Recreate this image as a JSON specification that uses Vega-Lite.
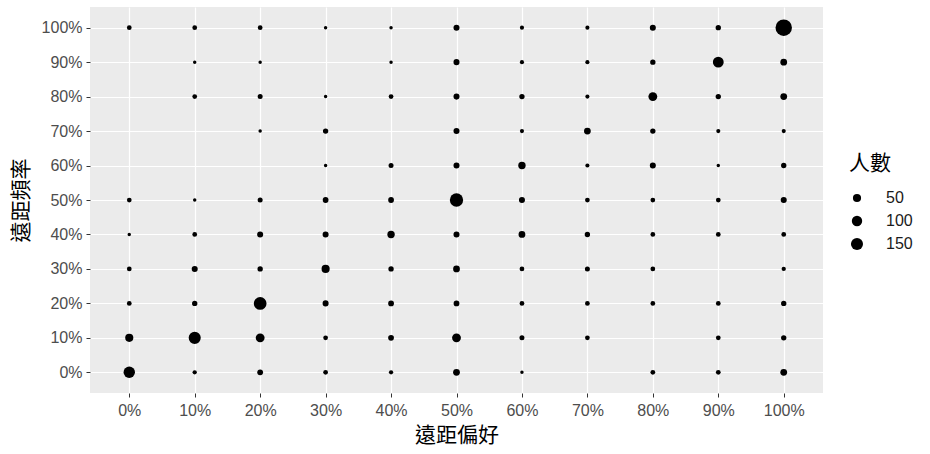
{
  "$schema": "https://vega.github.io/schema/vega-lite/v6.json",
  "autosize": "none",
  "width": 733,
  "height": 386,
  "padding": {"left": 90, "top": 7, "right": 107, "bottom": 61},
  "background": "white",
  "data": {
    "values": [
      {"pref": 0, "freq": 100, "n": 8}, {"pref": 10, "freq": 100, "n": 8}, {"pref": 20, "freq": 100, "n": 8},
      {"pref": 30, "freq": 100, "n": 1}, {"pref": 40, "freq": 100, "n": 1}, {"pref": 50, "freq": 100, "n": 20},
      {"pref": 60, "freq": 100, "n": 4}, {"pref": 70, "freq": 100, "n": 4}, {"pref": 80, "freq": 100, "n": 20},
      {"pref": 90, "freq": 100, "n": 13}, {"pref": 100, "freq": 100, "n": 338},

      {"pref": 10, "freq": 90, "n": 1}, {"pref": 20, "freq": 90, "n": 1}, {"pref": 40, "freq": 90, "n": 1},
      {"pref": 50, "freq": 90, "n": 20}, {"pref": 60, "freq": 90, "n": 4}, {"pref": 70, "freq": 90, "n": 4},
      {"pref": 80, "freq": 90, "n": 13}, {"pref": 90, "freq": 90, "n": 112}, {"pref": 100, "freq": 90, "n": 29},

      {"pref": 10, "freq": 80, "n": 8}, {"pref": 20, "freq": 80, "n": 10}, {"pref": 30, "freq": 80, "n": 1},
      {"pref": 40, "freq": 80, "n": 8}, {"pref": 50, "freq": 80, "n": 20}, {"pref": 60, "freq": 80, "n": 13},
      {"pref": 70, "freq": 80, "n": 4}, {"pref": 80, "freq": 80, "n": 64}, {"pref": 90, "freq": 80, "n": 13},
      {"pref": 100, "freq": 80, "n": 29},

      {"pref": 20, "freq": 70, "n": 1}, {"pref": 30, "freq": 70, "n": 13}, {"pref": 50, "freq": 70, "n": 20},
      {"pref": 60, "freq": 70, "n": 4}, {"pref": 70, "freq": 70, "n": 29}, {"pref": 80, "freq": 70, "n": 13},
      {"pref": 90, "freq": 70, "n": 4}, {"pref": 100, "freq": 70, "n": 4},

      {"pref": 30, "freq": 60, "n": 1}, {"pref": 40, "freq": 60, "n": 10}, {"pref": 50, "freq": 60, "n": 20},
      {"pref": 60, "freq": 60, "n": 38}, {"pref": 70, "freq": 60, "n": 4}, {"pref": 80, "freq": 60, "n": 20},
      {"pref": 90, "freq": 60, "n": 1}, {"pref": 100, "freq": 60, "n": 13},

      {"pref": 0, "freq": 50, "n": 8}, {"pref": 10, "freq": 50, "n": 1}, {"pref": 20, "freq": 50, "n": 10},
      {"pref": 30, "freq": 50, "n": 17}, {"pref": 40, "freq": 50, "n": 17}, {"pref": 50, "freq": 50, "n": 195},
      {"pref": 60, "freq": 50, "n": 20}, {"pref": 70, "freq": 50, "n": 8}, {"pref": 80, "freq": 50, "n": 8},
      {"pref": 90, "freq": 50, "n": 8}, {"pref": 100, "freq": 50, "n": 20},

      {"pref": 0, "freq": 40, "n": 1}, {"pref": 10, "freq": 40, "n": 8}, {"pref": 20, "freq": 40, "n": 20},
      {"pref": 30, "freq": 40, "n": 20}, {"pref": 40, "freq": 40, "n": 38}, {"pref": 50, "freq": 40, "n": 20},
      {"pref": 60, "freq": 40, "n": 29}, {"pref": 70, "freq": 40, "n": 13}, {"pref": 80, "freq": 40, "n": 8},
      {"pref": 90, "freq": 40, "n": 8}, {"pref": 100, "freq": 40, "n": 8},

      {"pref": 0, "freq": 30, "n": 8}, {"pref": 10, "freq": 30, "n": 20}, {"pref": 20, "freq": 30, "n": 13},
      {"pref": 30, "freq": 30, "n": 50}, {"pref": 40, "freq": 30, "n": 13}, {"pref": 50, "freq": 30, "n": 29},
      {"pref": 60, "freq": 30, "n": 8}, {"pref": 70, "freq": 30, "n": 10}, {"pref": 80, "freq": 30, "n": 8},
      {"pref": 100, "freq": 30, "n": 5},

      {"pref": 0, "freq": 20, "n": 8}, {"pref": 10, "freq": 20, "n": 13}, {"pref": 20, "freq": 20, "n": 174},
      {"pref": 30, "freq": 20, "n": 20}, {"pref": 40, "freq": 20, "n": 17}, {"pref": 50, "freq": 20, "n": 17},
      {"pref": 60, "freq": 20, "n": 8}, {"pref": 70, "freq": 20, "n": 8}, {"pref": 80, "freq": 20, "n": 8},
      {"pref": 90, "freq": 20, "n": 8}, {"pref": 100, "freq": 20, "n": 13},

      {"pref": 0, "freq": 10, "n": 50}, {"pref": 10, "freq": 10, "n": 151}, {"pref": 20, "freq": 10, "n": 64},
      {"pref": 30, "freq": 10, "n": 8}, {"pref": 40, "freq": 10, "n": 17}, {"pref": 50, "freq": 10, "n": 64},
      {"pref": 60, "freq": 10, "n": 10}, {"pref": 70, "freq": 10, "n": 8}, {"pref": 90, "freq": 10, "n": 8},
      {"pref": 100, "freq": 10, "n": 13},

      {"pref": 0, "freq": 0, "n": 129}, {"pref": 10, "freq": 0, "n": 5}, {"pref": 20, "freq": 0, "n": 17},
      {"pref": 30, "freq": 0, "n": 8}, {"pref": 40, "freq": 0, "n": 5}, {"pref": 50, "freq": 0, "n": 29},
      {"pref": 60, "freq": 0, "n": 1}, {"pref": 80, "freq": 0, "n": 8}, {"pref": 90, "freq": 0, "n": 8},
      {"pref": 100, "freq": 0, "n": 29}
    ]
  },
  "mark": {"type": "circle", "color": "black", "opacity": 1},
  "encoding": {
    "x": {
      "field": "pref",
      "type": "ordinal",
      "sort": "ascending",
      "scale": {"padding": 0.6},
      "axis": {
        "title": "遠距偏好",
        "labelExpr": "datum.value + '%'",
        "labelAngle": 0,
        "labelPadding": 5,
        "titlePadding": 6
      }
    },
    "y": {
      "field": "freq",
      "type": "ordinal",
      "sort": "descending",
      "scale": {"padding": 0.6},
      "axis": {
        "title": "遠距頻率",
        "labelExpr": "datum.value + '%'",
        "labelPadding": 4,
        "titlePadding": 10
      }
    },
    "size": {
      "field": "n",
      "type": "quantitative",
      "title": "人數",
      "scale": {"type": "pow", "exponent": 0.8, "zero": false, "domain": [1, 338], "range": [12, 270]},
      "legend": {
        "values": [50, 100, 150],
        "orient": "none",
        "legendX": 759,
        "legendY": 146,
        "symbolFillColor": "black",
        "symbolStrokeWidth": 0,
        "symbolOpacity": 1,
        "rowPadding": 7,
        "labelOffset": 21,
        "titlePadding": 16
      }
    }
  },
  "config": {
    "view": {"fill": "#EBEBEB", "stroke": null},
    "axis": {
      "domain": false,
      "grid": true,
      "gridColor": "white",
      "gridWidth": 1.2,
      "tickColor": "#333333",
      "tickSize": 4,
      "labelFont": "Liberation Sans",
      "labelFontSize": 16,
      "labelColor": "#4D4D4D",
      "titleFont": "Noto Sans CJK TC",
      "titleFontSize": 21,
      "titleFontWeight": "normal",
      "titleColor": "black"
    },
    "legend": {
      "titleFont": "Noto Sans CJK TC",
      "titleFontSize": 21,
      "titleFontWeight": "normal",
      "titleColor": "black",
      "labelFont": "Liberation Sans",
      "labelFontSize": 16,
      "labelColor": "#1A1A1A"
    }
  }
}
